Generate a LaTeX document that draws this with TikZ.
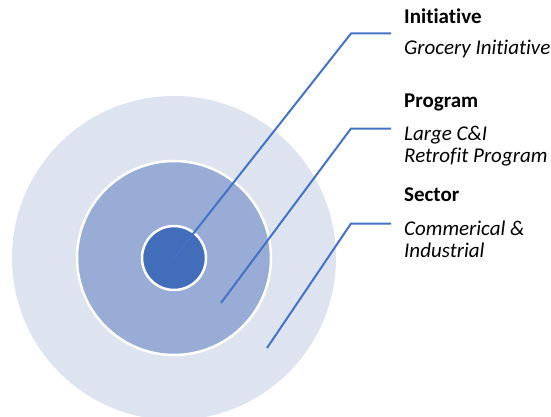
\documentclass[tikz,border=0pt]{standalone}
\usepackage{fontspec}
\setmainfont{Carlito}[RawFeature={-liga;-clig}]
\definecolor{outerc}{HTML}{DEE3F0}
\definecolor{midc}{HTML}{98ACD6}
\definecolor{innerc}{HTML}{416DBB}
\definecolor{linec}{HTML}{4472C4}
\begin{document}
\begin{tikzpicture}[x=1pt,y=1pt,
  ring/.style={circle,inner sep=0pt,outer sep=0pt,draw=white,line width=2.5pt},
  leader/.style={draw=linec,line width=2pt,line join=miter},
  title/.style={anchor=base west,inner sep=0pt,font=\fontsize{21}{25}\selectfont\bfseries},
  body/.style={anchor=base west,inner sep=0pt,font=\fontsize{21}{25}\selectfont\itshape}]
\useasboundingbox (0,0) rectangle (551,416);
\clip (0,0) rectangle (551,416);
\node[circle,inner sep=0pt,fill=outerc,minimum size=324pt] (outer) at (174,158) {};
\node[ring,fill=midc,minimum size=194pt] (mid) at (174,158) {};
\node[ring,fill=innerc,minimum size=64pt] (inner) at (174,158) {};
% leader coordinates
\coordinate (pS) at (221,113);
\coordinate (sS) at (267,68);
\coordinate (iB) at (351,382.5);
\coordinate (iE) at (391,382.5);
\coordinate (pB) at (351,287.5);
\coordinate (pE) at (391,287.5);
\coordinate (sB) at (351,192.5);
\coordinate (sE) at (391,192.5);
\draw[leader] (inner.center) -- (iB) -- (iE);
\draw[leader] (pS) -- (pB) -- (pE);
\draw[leader] (sS) -- (sB) -- (sE);
% texts
\node[title] (t1) at (404,392) {Initiative};
\node[body] (b1) at (404,361) {Grocery Initiative};
\node[title] (t2) at (404,309) {Program};
\node[body] (b2a) at (404,276) {Large C\&I};
\node[body] (b2b) at (404,253.5) {Retrofit Program};
\node[title] (t3) at (404,214.3) {Sector};
\node[body] (b3a) at (404,181) {Commerical \&};
\node[body] (b3b) at (404,158.3) {Industrial};
\end{tikzpicture}
\end{document}
